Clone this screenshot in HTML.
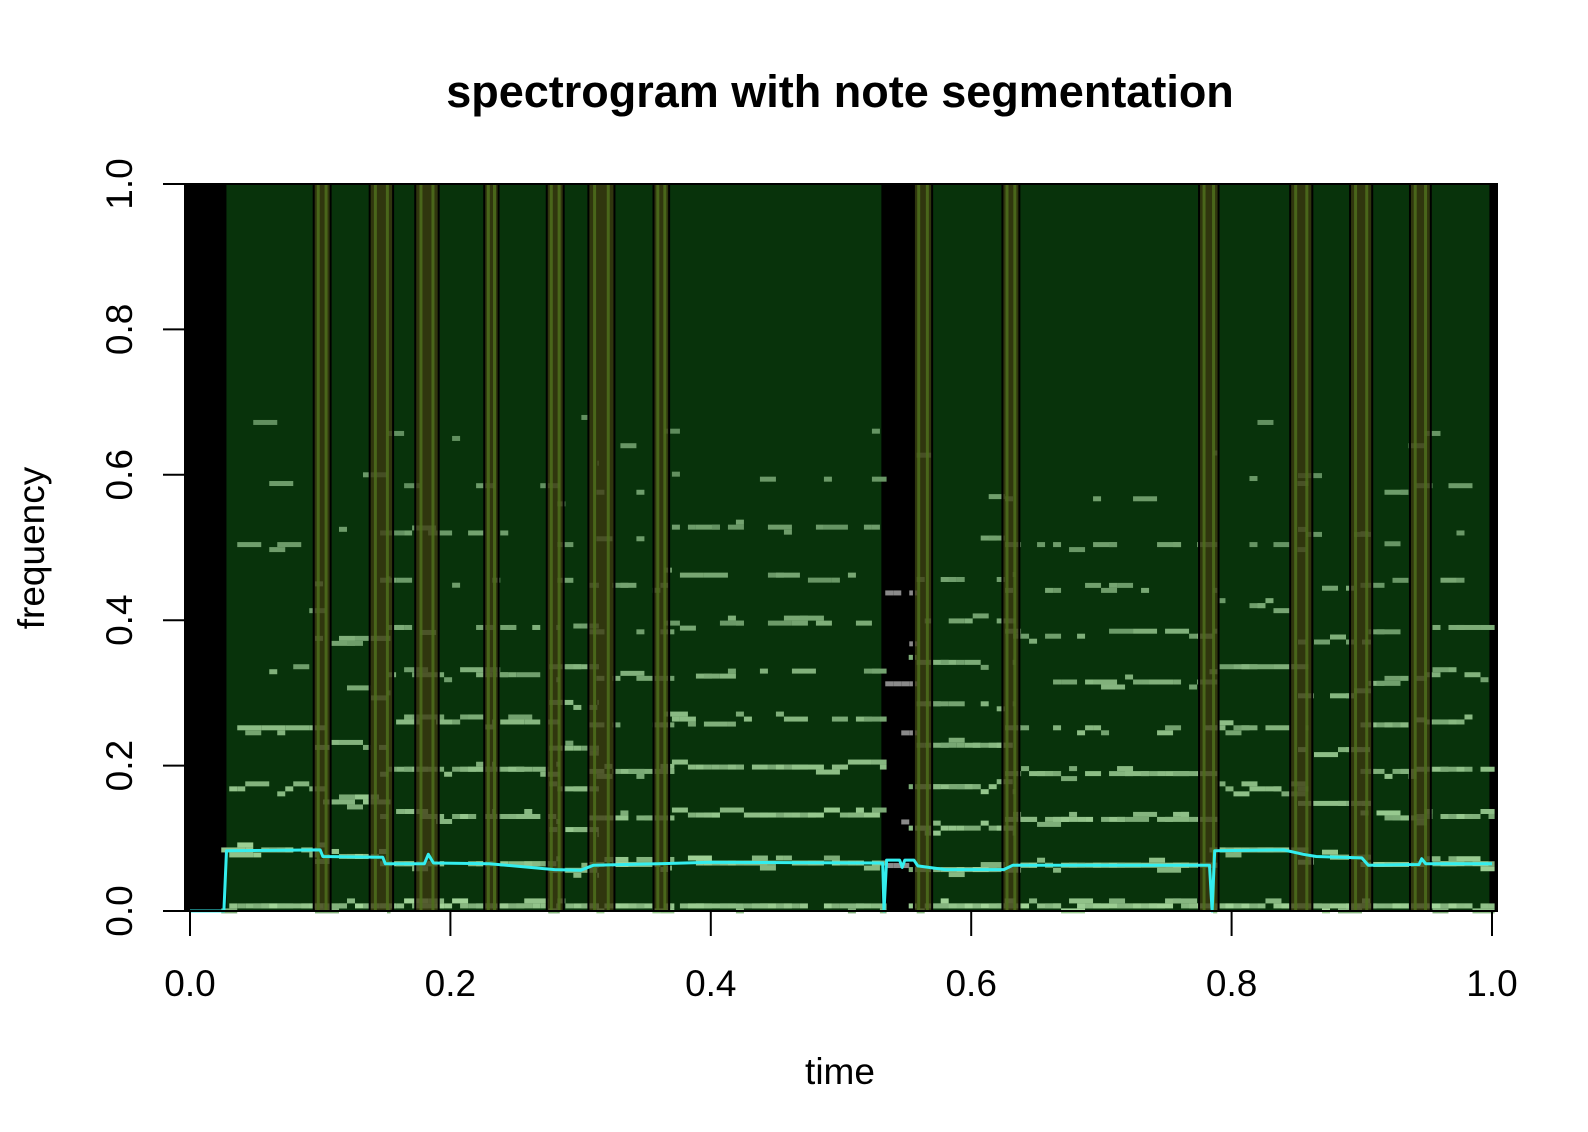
<!DOCTYPE html>
<html><head><meta charset="utf-8"><style>
html,body{margin:0;padding:0;background:#fff}
svg{display:block}
text{font-family:"Liberation Sans",Arial,sans-serif;fill:#000}
</style></head><body>
<svg id="chart" width="1588" height="1132" viewBox="0 0 1588 1132" xmlns="http://www.w3.org/2000/svg">
<text x="840" y="107" text-anchor="middle" font-size="45" font-weight="bold">spectrogram with note segmentation</text>
<text x="840" y="1084" text-anchor="middle" font-size="37">time</text>
<text transform="translate(44,548) rotate(-90)" text-anchor="middle" font-size="37">frequency</text>
<g id="plot"></g>
<g id="axes"></g>
</svg>
<script>
// ---- data ----
const xTicks = [0, 0.2, 0.4, 0.6, 0.8, 1.0];
const xTickLabels = ["0.0", "0.2", "0.4", "0.6", "0.8", "1.0"];
const yTicks = [0, 0.2, 0.4, 0.6, 0.8, 1.0];
const yTickLabels = ["0.0", "0.2", "0.4", "0.6", "0.8", "1.0"];
const silenceStart = [-0.004, 0.531, 0.998];
const silenceEnd = [0.028, 0.556, 1.004];
const bandStart = [0.095, 0.138, 0.173, 0.226, 0.274, 0.306, 0.356, 0.556, 0.624, 0.775, 0.845, 0.891, 0.937];
const bandEnd = [0.108, 0.156, 0.191, 0.237, 0.287, 0.326, 0.368, 0.570, 0.637, 0.790, 0.862, 0.908, 0.953];
const noteStart = [0.028, 0.100, 0.150, 0.230, 0.280, 0.310, 0.368, 0.556, 0.630, 0.787, 0.855, 0.903, 0.946];
const noteEnd = [0.100, 0.150, 0.230, 0.280, 0.310, 0.368, 0.531, 0.630, 0.785, 0.855, 0.903, 0.946, 0.998];
const noteF0 = [0.084, 0.075, 0.065, 0.065, 0.056, 0.064, 0.066, 0.057, 0.063, 0.084, 0.074, 0.064, 0.065];
const pitchT = [0, 0.026, 0.028, 0.1, 0.102, 0.148, 0.15, 0.18, 0.183, 0.187, 0.23, 0.28, 0.3, 0.31, 0.36, 0.4, 0.53, 0.532, 0.533, 0.535, 0.545, 0.547, 0.549, 0.556, 0.559, 0.58, 0.625, 0.632, 0.7, 0.783, 0.785, 0.787, 0.84, 0.855, 0.865, 0.9, 0.905, 0.944, 0.946, 0.949, 1.0];
const pitchF = [0, 0, 0.083, 0.084, 0.075, 0.074, 0.065, 0.065, 0.078, 0.066, 0.065, 0.057, 0.056, 0.063, 0.065, 0.067, 0.066, 0.066, 0.0, 0.07, 0.07, 0.06, 0.07, 0.07, 0.062, 0.057, 0.057, 0.063, 0.063, 0.063, 0.0, 0.083, 0.084, 0.078, 0.075, 0.073, 0.063, 0.064, 0.072, 0.065, 0.065];

// ---- scales ----
const X0 = 190, X1 = 1492, Y0 = 911, Y1 = 184, LEFT = 185, RIGHT = 1497;
const sx = t => X0 + t * (X1 - X0);
const sy = f => Y0 - f * (Y0 - Y1);
const NS = "http://www.w3.org/2000/svg";
const plot = document.getElementById('plot');
const axes = document.getElementById('axes');
function mk(tag, attrs, parent) {
  const e = document.createElementNS(NS, tag);
  for (const k in attrs) e.setAttribute(k, attrs[k]);
  parent.appendChild(e);
  return e;
}
function hash(a, b) {
  let h = (a * 374761393 + b * 668265263) | 0;
  h = (h ^ (h >>> 13)) * 1274126177 | 0;
  return ((h ^ (h >>> 16)) >>> 0) / 4294967296;
}

const bg = mk('rect', {x: LEFT, y: Y1, width: RIGHT - LEFT, height: Y0 - Y1, fill: '#08330b'}, plot);



for (let i = 0; i < silenceStart.length; i++) {
  const a = Math.max(LEFT, sx(silenceStart[i])), b = Math.min(RIGHT, sx(silenceEnd[i]));
  const r = mk('rect', {x: a, y: Y1, width: b - a, height: Y0 - Y1, fill: '#000'}, plot);
  
  
}

const spec = mk('g', {}, plot);


const CW = 8, CH = 5;
for (let n = 0; n < noteStart.length; n++) {
  const f0 = noteF0[n];
  const xa = sx(noteStart[n] - 0.004), xb = sx(noteEnd[n] + 0.004);
  const kmax = Math.floor(0.68 / f0);
  for (let k = 0; k <= kmax; k++) {
    const f = k === 0 ? 0.007 : k * f0;
    const p = k === 0 ? 0.97 : Math.max(0.1, 1.0 - f * 1.5);
    let ci = 0;
    for (let x = xa; x < xb; x += CW, ci++) {
      const h = hash(n * 97 + ci, k * 31 + 7);
      if (h > p) continue;
      const h2 = hash(n * 13 + ci * 7, k + 101);
      const dy = h2 < 0.15 ? -CH : (h2 > 0.9 ? CH : 0);
      const light = Math.max(0.15, 1 - f * 1.1) * (0.55 + 0.45 * hash(ci, n * 5 + k));
      const g = Math.round(125 + light * 90), rr = Math.round(80 + light * 85), bb = Math.round(80 + light * 75);
      const w = Math.min(CW * (1 + Math.floor(hash(ci + 3, k + n) * 3)), xb - x);
      const r = mk('rect', {x: x, y: sy(f) - CH / 2 + dy, width: w, height: CH, fill: `rgb(${rr},${g},${bb})`}, spec);
      
      
    }
  }
}
for (let k = 1; k < 8; k++) {
  const f = k * 0.0625 * (k % 2 ? 1 : 0.98);
  for (let ci = 0; ci < 4; ci++) {
    if (hash(ci, k + 50) > 0.7) continue;
    const r = mk('rect', {x: sx(0.534) + ci * CW, y: sy(f) - CH / 2, width: CW, height: CH, fill: '#8a8a8a'}, spec);
    
    
  }
}

for (let i = 0; i < bandStart.length; i++) {
  const a = sx(bandStart[i]), b = sx(bandEnd[i]), w = b - a;
  const g = mk('g', {}, plot);
  
  
  mk('rect', {x: a, y: Y1, width: w, height: Y0 - Y1, fill: 'rgba(62,56,16,0.75)'}, g);
  mk('rect', {x: a + w * 0.18, y: Y1, width: 3, height: Y0 - Y1, fill: 'rgba(78,110,28,0.85)'}, g);
  mk('rect', {x: b - w * 0.18 - 3, y: Y1, width: 3, height: Y0 - Y1, fill: 'rgba(78,110,28,0.85)'}, g);
  mk('line', {x1: a, x2: a, y1: Y1, y2: Y0, stroke: '#000', 'stroke-width': 2}, g);
  mk('line', {x1: b, x2: b, y1: Y1, y2: Y0, stroke: '#000', 'stroke-width': 2}, g);
}

let d = '';
for (let i = 0; i < pitchT.length; i++) d += (i ? 'L' : 'M') + sx(pitchT[i]).toFixed(1) + ',' + sy(pitchF[i]).toFixed(1);
const pl = mk('path', {d: d, fill: 'none', stroke: '#33eeee', 'stroke-width': 3, 'stroke-linejoin': 'round'}, plot);



const fr = mk('rect', {x: LEFT, y: Y1, width: RIGHT - LEFT, height: Y0 - Y1, fill: 'none', stroke: '#000', 'stroke-width': 2}, plot);



mk('line', {x1: sx(0), x2: sx(1), y1: Y0, y2: Y0, stroke: '#000', 'stroke-width': 2}, axes);
xTicks.forEach((t, i) => {
  const l = mk('line', {x1: sx(t), x2: sx(t), y1: Y0, y2: Y0 + 25, stroke: '#000', 'stroke-width': 2}, axes);
  
  
  const tx = mk('text', {x: sx(t), y: 996, 'text-anchor': 'middle', 'font-size': 37}, axes);
  tx.textContent = xTickLabels[i];
  
  
});
yTicks.forEach((v, i) => {
  const l = mk('line', {x1: LEFT - 22, x2: LEFT, y1: sy(v), y2: sy(v), stroke: '#000', 'stroke-width': 2}, axes);
  
  
  const tx = mk('text', {transform: `translate(132,${sy(v)}) rotate(-90)`, 'text-anchor': 'middle', 'font-size': 37}, axes);
  tx.textContent = yTickLabels[i];
  
  
});
</script>
</body></html>
